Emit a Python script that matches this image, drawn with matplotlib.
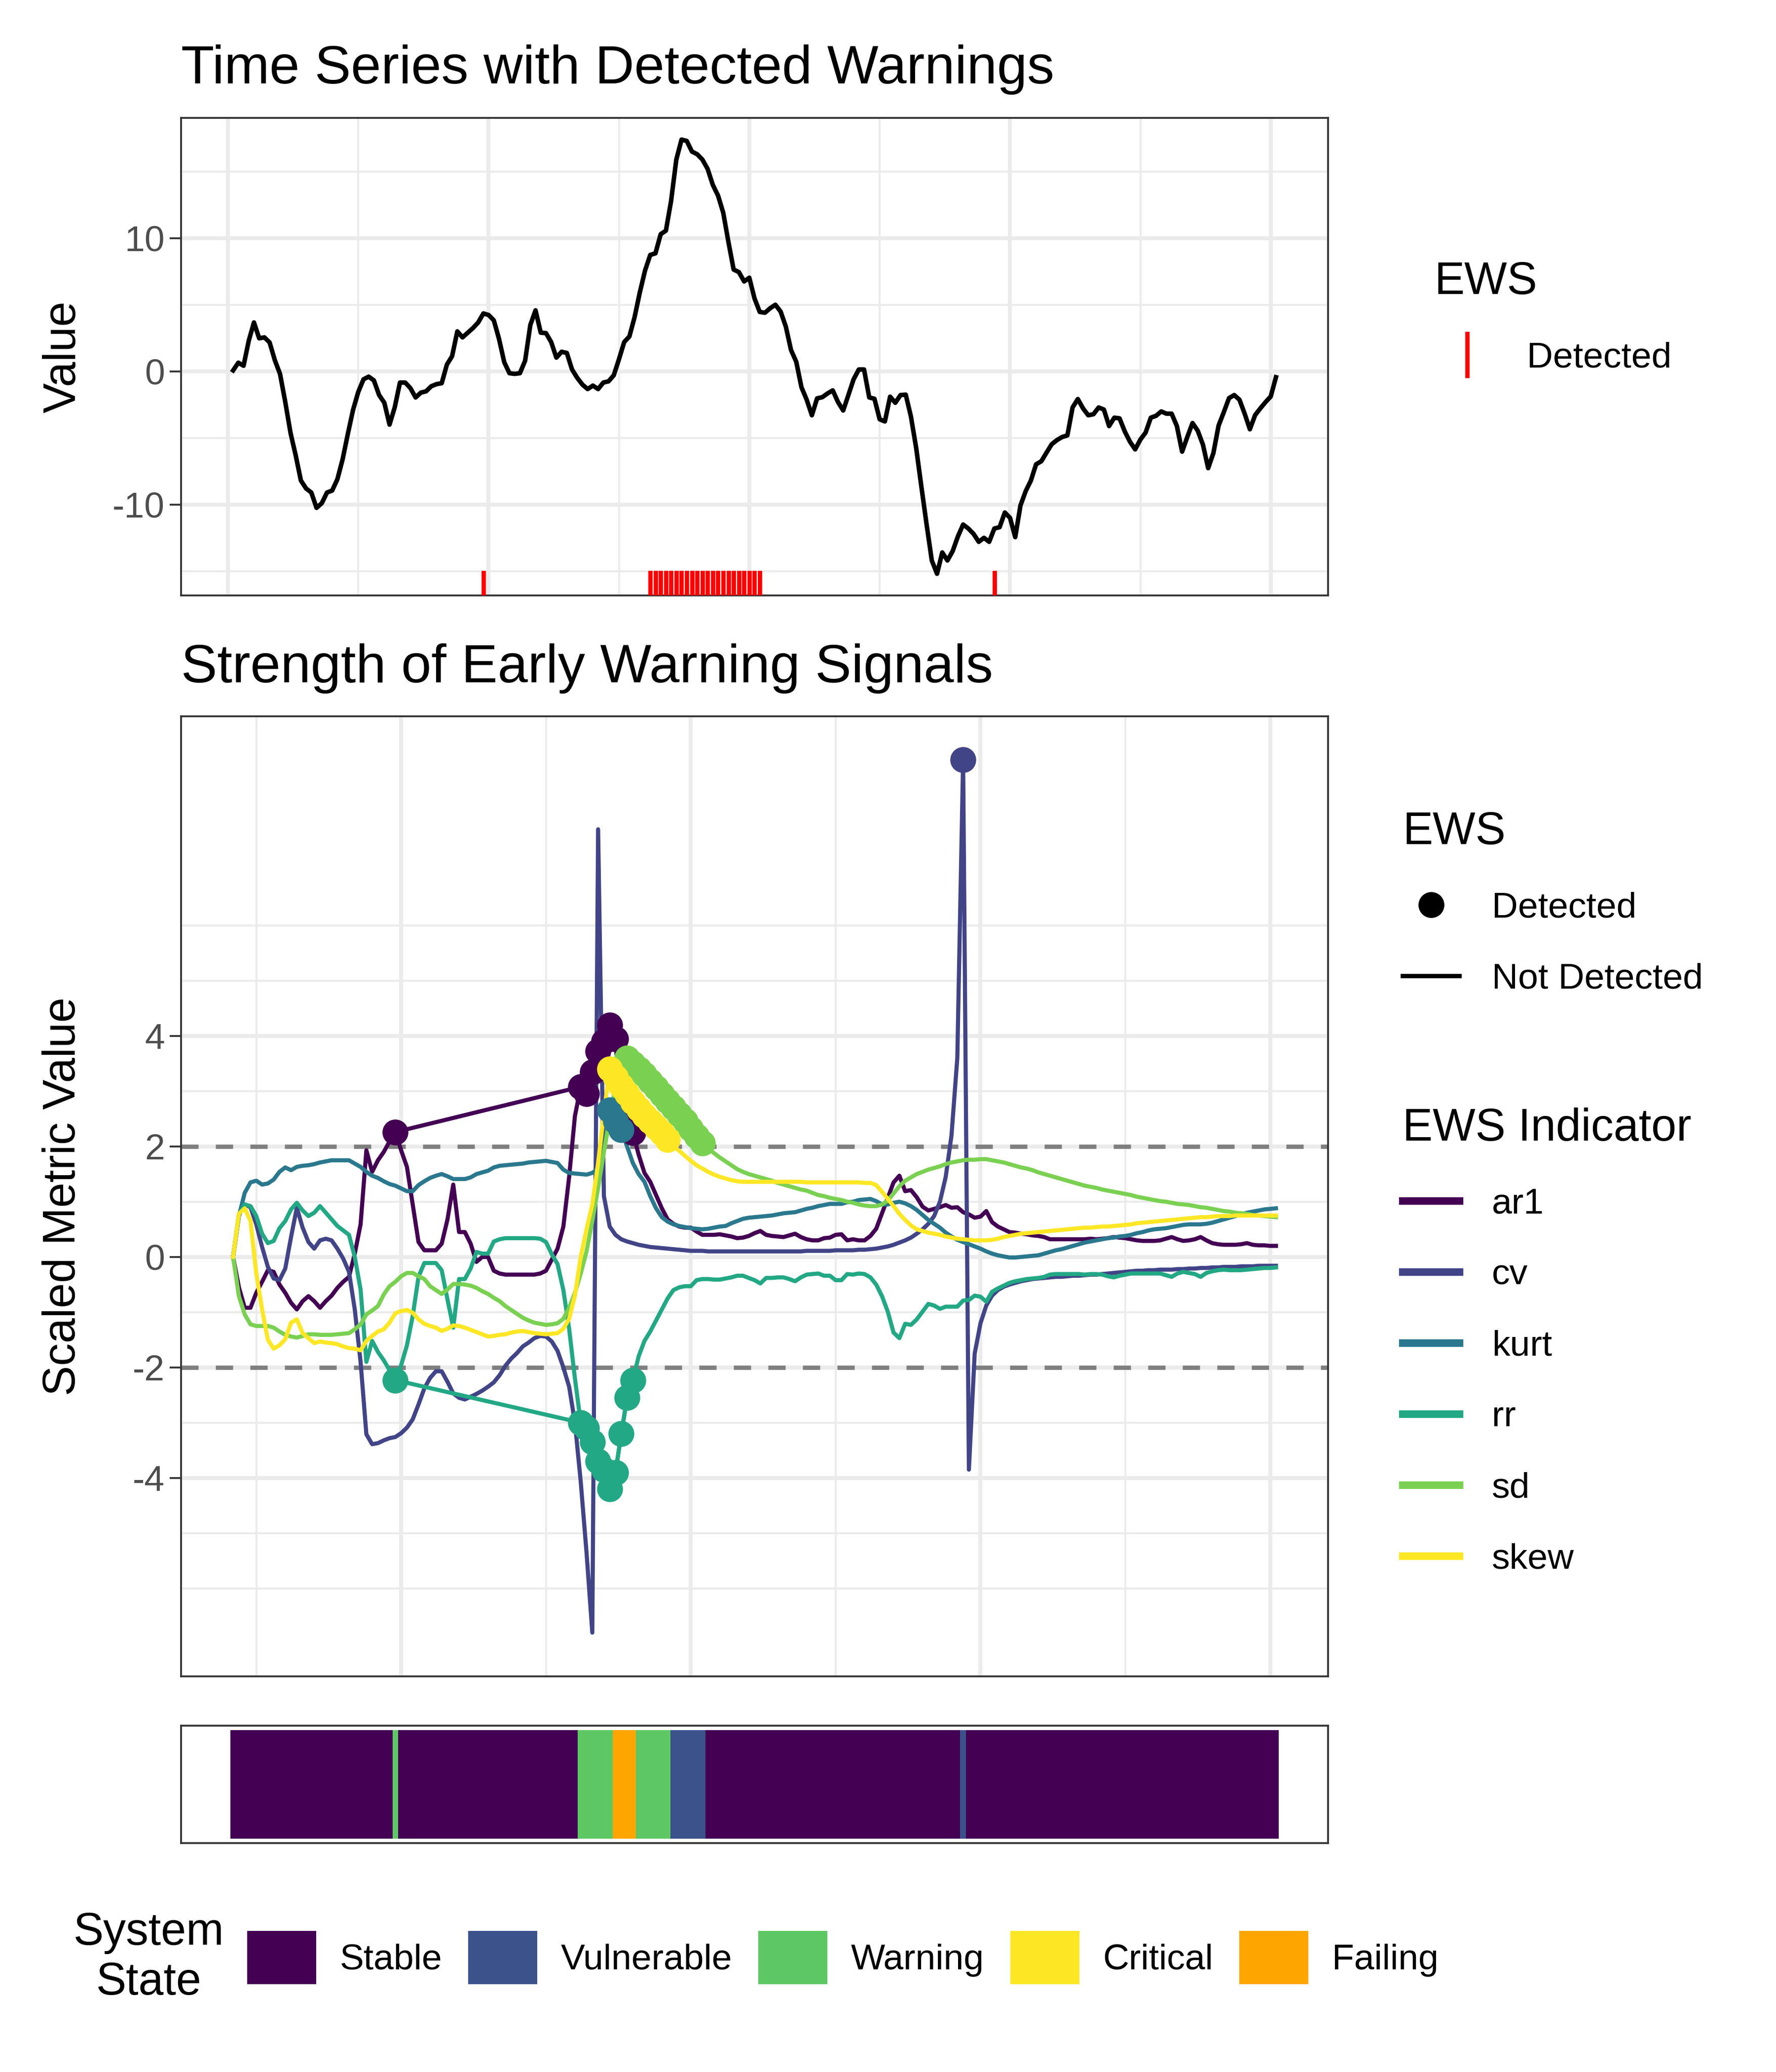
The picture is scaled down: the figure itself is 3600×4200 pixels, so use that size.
import matplotlib
matplotlib.use("Agg")
import matplotlib.pyplot as plt
import numpy as np
from matplotlib.lines import Line2D
from matplotlib.patches import Patch
from matplotlib.colors import ListedColormap

plt.rcParams['font.family'] = ['Liberation Sans', 'DejaVu Sans']
plt.rcParams['axes.unicode_minus'] = False

# ---------------- data ----------------
ts_time = np.arange(1, 202)
ts_value = [
    0.07, 0.65, 0.42, 2.3, 3.67, 2.48, 2.55, 2.17, 0.84, -0.2,
    -2.3, -4.6, -6.3, -8.2, -8.8, -9.1, -10.25, -9.9, -9.1, -8.95,
    -8.1, -6.6, -4.7, -2.9, -1.55, -0.6, -0.4, -0.68, -1.78, -2.36,
    -4.0, -2.7, -0.84, -0.84, -1.26, -1.96, -1.6, -1.5, -1.12, -0.96,
    -0.89, 0.51, 1.14, 3.0, 2.55, 2.9, 3.25, 3.67, 4.35, 4.23,
    3.83, 2.43, 0.68, -0.14, -0.19, -0.14, 0.8, 3.48, 4.58, 2.9,
    2.87, 2.2, 1.03, 1.47, 1.38, 0.14, -0.49, -1.0, -1.33, -1.07,
    -1.33, -0.84, -0.75, -0.3, 0.91, 2.2, 2.62, 4.07, 5.93, 7.57,
    8.74, 8.86, 10.3, 10.56, 12.8, 15.9, 17.4, 17.3, 16.5, 16.3,
    15.9, 15.2, 14.0, 13.2, 11.9, 9.7, 7.64, 7.45, 6.75, 7.03,
    5.47, 4.46, 4.4, 4.74, 5.0, 4.49, 3.36, 1.6, 0.72, -1.2,
    -2.13, -3.3, -2.03, -1.94, -1.66, -1.43, -2.3, -2.94, -1.78, -0.6,
    0.14, 0.14, -1.96, -2.06, -3.6, -3.76, -1.9, -2.36, -1.78, -1.75,
    -3.4, -5.75, -8.67, -11.5, -14.2, -15.2, -13.6, -14.2, -13.5, -12.4,
    -11.5, -11.8, -12.2, -12.8, -12.5, -12.8, -11.8, -11.7, -10.6, -11.0,
    -12.45, -10.07, -9.0, -8.2, -6.98, -6.75, -6.1, -5.47, -5.16, -4.93,
    -4.81, -2.71, -2.08, -2.78, -3.3, -3.22, -2.71, -2.87, -4.11, -3.48,
    -3.53, -4.51, -5.28, -5.86, -5.12, -4.6, -3.48, -3.34, -3.01, -3.18,
    -3.18, -4.11, -6.03, -4.93, -3.88, -4.46, -5.51, -7.27, -6.14, -4.07,
    -3.06, -2.01, -1.78, -2.13, -3.18, -4.35, -3.29, -2.78, -2.31, -1.89,
    -0.44,
]

ews_time = np.arange(21, 202)
ar1 = [
    0.0, -0.55, -0.92, -0.92, -0.65, -0.45, -0.24, -0.27, -0.5, -0.65,
    -0.83, -0.95, -0.8, -0.71, -0.8, -0.92, -0.8, -0.7, -0.56, -0.45,
    -0.36, 0.06, 0.59, 1.93, 1.54, 1.75, 1.9, 2.09, 2.26, 1.93,
    1.63, 0.95, 0.27, 0.12, 0.12, 0.12, 0.24, 0.68, 1.31, 0.45,
    0.45, 0.24, -0.09, 0.0, 0.0, -0.25, -0.3, -0.32, -0.32, -0.32,
    -0.32, -0.32, -0.32, -0.3, -0.25, -0.05, 0.15, 0.55, 1.45, 2.55,
    3.08, 2.95, 3.35, 3.72, 3.9, 4.2, 3.95, 2.5, 2.4, 2.25,
    1.85, 1.52, 1.36, 1.12, 0.88, 0.68, 0.6, 0.55, 0.53, 0.53,
    0.46, 0.4, 0.4, 0.4, 0.41, 0.39, 0.37, 0.34, 0.35, 0.38,
    0.43, 0.47, 0.4, 0.38, 0.37, 0.36, 0.39, 0.42, 0.36, 0.32,
    0.3, 0.3, 0.34, 0.35, 0.4, 0.41, 0.3, 0.32, 0.3, 0.3,
    0.38, 0.51, 0.79, 1.07, 1.35, 1.47, 1.19, 1.21, 1.08, 0.91,
    0.84, 0.87, 0.9, 0.94, 0.89, 0.9, 0.81, 0.77, 0.71, 0.73,
    0.83, 0.63, 0.55, 0.5, 0.45, 0.44, 0.42, 0.41, 0.39, 0.38,
    0.36, 0.32, 0.32, 0.32, 0.32, 0.32, 0.32, 0.32, 0.33, 0.32,
    0.33, 0.34, 0.36, 0.35, 0.34, 0.32, 0.3, 0.29, 0.29, 0.29,
    0.3, 0.33, 0.36, 0.32, 0.29, 0.3, 0.32, 0.36, 0.3, 0.25,
    0.23, 0.22, 0.22, 0.22, 0.23, 0.25, 0.22, 0.21, 0.21, 0.2,
    0.2,
]
cv = [
    0.0, 0.75, 0.95, 0.9, 0.59, 0.18, -0.18, -0.39, -0.42, -0.21,
    0.36, 0.89, 0.53, 0.27, 0.15, 0.3, 0.33, 0.3, 0.15, -0.03,
    -0.27, -0.95, -1.9, -3.21, -3.39, -3.37, -3.32, -3.28, -3.26, -3.19,
    -3.09, -2.94, -2.67, -2.38, -2.19, -2.07, -2.07, -2.26, -2.47, -2.55,
    -2.58, -2.53, -2.48, -2.42, -2.35, -2.27, -2.14, -1.97, -1.84, -1.74,
    -1.62, -1.55, -1.47, -1.43, -1.44, -1.53, -1.7, -2.0, -2.35, -3.0,
    -4.07, -5.35, -6.8, 7.74, 1.1, 0.55, 0.4, 0.32, 0.28, 0.25,
    0.22, 0.2, 0.18, 0.17, 0.16, 0.15, 0.14, 0.13, 0.12, 0.11,
    0.11, 0.11, 0.1, 0.1, 0.1, 0.1, 0.1, 0.1, 0.1, 0.1,
    0.1, 0.1, 0.1, 0.1, 0.1, 0.1, 0.1, 0.1, 0.1, 0.11,
    0.11, 0.11, 0.11, 0.11, 0.12, 0.12, 0.12, 0.12, 0.13, 0.13,
    0.14, 0.15, 0.17, 0.19, 0.22, 0.26, 0.3, 0.35, 0.42, 0.5,
    0.6, 0.74, 1.0, 1.45, 2.2, 3.6, 9.0, -3.85, -1.75, -1.2,
    -0.88, -0.7, -0.6, -0.54, -0.5, -0.47, -0.44, -0.42, -0.4, -0.39,
    -0.38, -0.37, -0.36, -0.36, -0.35, -0.34, -0.34, -0.33, -0.32, -0.32,
    -0.31, -0.3, -0.29, -0.28, -0.27, -0.26, -0.25, -0.25, -0.24, -0.24,
    -0.23, -0.23, -0.23, -0.22, -0.22, -0.21, -0.21, -0.2, -0.2, -0.19,
    -0.19, -0.18, -0.18, -0.18, -0.17, -0.17, -0.17, -0.16, -0.16, -0.16,
    -0.16,
]
kurt = [
    0.0, 0.74, 1.16, 1.35, 1.38, 1.31, 1.33, 1.4, 1.54, 1.62,
    1.57, 1.63, 1.65, 1.66, 1.68, 1.71, 1.73, 1.75, 1.75, 1.75,
    1.75, 1.69, 1.63, 1.54, 1.47, 1.43, 1.37, 1.32, 1.29, 1.24,
    1.19, 1.19, 1.3, 1.37, 1.43, 1.47, 1.5, 1.46, 1.41, 1.41,
    1.41, 1.44, 1.5, 1.53, 1.56, 1.62, 1.65, 1.66, 1.67, 1.68,
    1.69, 1.71, 1.72, 1.73, 1.74, 1.72, 1.7, 1.58, 1.52, 1.51,
    1.5, 1.49, 1.52, 1.6, 1.95, 2.66, 2.45, 2.3, 2.0, 1.7,
    1.5, 1.36, 1.1, 0.88, 0.72, 0.64, 0.59, 0.56, 0.54, 0.52,
    0.51, 0.5, 0.51, 0.53, 0.55, 0.56, 0.61, 0.65, 0.69, 0.71,
    0.72, 0.73, 0.74, 0.75, 0.77, 0.79, 0.8, 0.81, 0.84, 0.87,
    0.89, 0.92, 0.94, 0.96, 0.96, 0.96, 0.99, 1.0, 1.03, 1.04,
    1.05, 1.01, 0.95, 0.95, 0.98, 1.0, 0.97, 0.92, 0.85, 0.76,
    0.67, 0.6, 0.53, 0.44, 0.37, 0.31, 0.27, 0.23, 0.19, 0.15,
    0.1, 0.06, 0.03, 0.01, -0.01, -0.01, 0.0, 0.01, 0.02, 0.03,
    0.06, 0.09, 0.12, 0.14, 0.17, 0.2, 0.23, 0.26, 0.28, 0.3,
    0.32, 0.34, 0.35, 0.37, 0.38, 0.4, 0.43, 0.45, 0.48, 0.5,
    0.51, 0.52, 0.54, 0.56, 0.58, 0.59, 0.59, 0.59, 0.6, 0.62,
    0.65, 0.68, 0.71, 0.74, 0.77, 0.8, 0.82, 0.84, 0.86, 0.87,
    0.88,
]
rr = [
    0.0, 0.77, 0.95, 0.92, 0.74, 0.42, 0.25, 0.29, 0.52, 0.65,
    0.86, 0.98, 0.84, 0.74, 0.8, 0.92, 0.8, 0.68, 0.56, 0.48,
    0.4, 0.0, -0.59, -1.9, -1.52, -1.72, -1.87, -2.05, -2.23, -1.96,
    -1.6, -1.07, -0.36, -0.11, -0.11, -0.11, -0.24, -0.77, -1.28, -0.4,
    -0.4, -0.21, 0.09, 0.06, 0.06, 0.28, 0.32, 0.34, 0.34, 0.34,
    0.34, 0.34, 0.34, 0.33, 0.27, 0.05, -0.13, -0.6, -1.3, -2.2,
    -3.0, -3.1, -3.35, -3.7, -3.85, -4.2, -3.9, -3.2, -2.55, -2.23,
    -1.8, -1.52, -1.35, -1.15, -0.95, -0.75, -0.6, -0.55, -0.53, -0.53,
    -0.42, -0.4, -0.4, -0.41, -0.41, -0.39, -0.37, -0.34, -0.34, -0.38,
    -0.42, -0.48, -0.38, -0.38, -0.37, -0.37, -0.4, -0.44, -0.37, -0.32,
    -0.31, -0.3, -0.34, -0.34, -0.42, -0.42, -0.31, -0.32, -0.3, -0.31,
    -0.37, -0.5, -0.71, -0.99, -1.37, -1.47, -1.21, -1.23, -1.13, -0.99,
    -0.85, -0.88, -0.94, -0.9, -0.9, -0.9, -0.79, -0.78, -0.7, -0.72,
    -0.81, -0.63, -0.57, -0.52, -0.47, -0.44, -0.42, -0.4, -0.39, -0.38,
    -0.36, -0.32, -0.31, -0.31, -0.31, -0.31, -0.31, -0.32, -0.31, -0.31,
    -0.32, -0.35, -0.37, -0.34, -0.32, -0.3, -0.3, -0.3, -0.3, -0.3,
    -0.3, -0.33, -0.36, -0.3, -0.27, -0.29, -0.31, -0.36, -0.29, -0.26,
    -0.24, -0.23, -0.24, -0.24, -0.24, -0.23, -0.22, -0.21, -0.2, -0.2,
    -0.19,
]
sd = [
    0.0, -0.71, -1.04, -1.22, -1.25, -1.25, -1.25, -1.28, -1.35, -1.41,
    -1.44, -1.46, -1.43, -1.4, -1.4, -1.41, -1.41, -1.41, -1.4, -1.39,
    -1.38, -1.31, -1.22, -1.04, -0.97, -0.89, -0.68, -0.53, -0.45, -0.35,
    -0.29, -0.29, -0.35, -0.4, -0.53, -0.6, -0.67, -0.59, -0.49, -0.49,
    -0.5, -0.52, -0.56, -0.62, -0.67, -0.74, -0.8, -0.89, -0.96, -1.03,
    -1.1, -1.15, -1.19, -1.21, -1.23, -1.22, -1.2, -1.12, -0.92, -0.65,
    -0.3, 0.1, 0.65, 1.25, 1.9, 2.5, 3.1, 3.5, 3.6, 3.5,
    3.4, 3.3, 3.18, 3.06, 2.94, 2.82, 2.7, 2.58, 2.46, 2.32,
    2.19, 2.06, 1.96, 1.88, 1.8, 1.73, 1.66, 1.59, 1.54, 1.5,
    1.47, 1.44, 1.41, 1.38, 1.34, 1.31, 1.28, 1.25, 1.22, 1.2,
    1.16, 1.12, 1.1, 1.07, 1.05, 1.03, 1.0, 0.98, 0.95, 0.93,
    0.92, 0.92, 0.95, 1.02, 1.15, 1.28, 1.38, 1.44, 1.5, 1.54,
    1.58, 1.61, 1.64, 1.68, 1.71, 1.73, 1.75, 1.76, 1.76, 1.77,
    1.77, 1.75, 1.73, 1.71, 1.68, 1.65, 1.62, 1.6, 1.57, 1.53,
    1.5, 1.47, 1.44, 1.41, 1.38, 1.35, 1.32, 1.29, 1.27, 1.25,
    1.22, 1.2, 1.18, 1.16, 1.14, 1.12, 1.09, 1.07, 1.05, 1.03,
    1.01, 1.0, 0.98, 0.96, 0.95, 0.94, 0.92, 0.9, 0.89, 0.87,
    0.85, 0.83, 0.82, 0.8, 0.79, 0.78, 0.76, 0.75, 0.74, 0.73,
    0.72,
]
skew = [
    0.0, 0.78, 0.88, 0.65, -0.3, -0.95, -1.5, -1.66, -1.6, -1.49,
    -1.19, -1.13, -1.38, -1.47, -1.56, -1.53, -1.55, -1.56, -1.58, -1.62,
    -1.65, -1.66, -1.69, -1.52, -1.43, -1.35, -1.31, -1.19, -1.02, -0.98,
    -0.96, -1.01, -1.13, -1.21, -1.25, -1.28, -1.34, -1.3, -1.24, -1.25,
    -1.28, -1.32, -1.36, -1.4, -1.44, -1.43, -1.41, -1.4, -1.37, -1.35,
    -1.34, -1.36, -1.38, -1.39, -1.4, -1.39, -1.38, -1.3, -1.12, -0.7,
    0.0, 0.5, 0.95, 1.7, 2.6, 3.4, 3.25, 3.1, 2.95, 2.8,
    2.68, 2.56, 2.45, 2.35, 2.24, 2.12, 2.0, 1.92, 1.83, 1.74,
    1.66, 1.6, 1.54, 1.49, 1.45, 1.42, 1.39, 1.37, 1.36, 1.36,
    1.36, 1.36, 1.36, 1.36, 1.36, 1.36, 1.36, 1.36, 1.36, 1.35,
    1.35, 1.35, 1.35, 1.35, 1.35, 1.35, 1.35, 1.35, 1.35, 1.34,
    1.34, 1.3, 1.18, 1.05, 0.92, 0.78, 0.67, 0.57, 0.5, 0.47,
    0.44, 0.42, 0.4, 0.37, 0.35, 0.33, 0.32, 0.31, 0.3, 0.3,
    0.3, 0.31, 0.33, 0.36, 0.38, 0.4, 0.42, 0.43, 0.44, 0.45,
    0.46, 0.47, 0.48, 0.49, 0.5, 0.51, 0.52, 0.53, 0.53, 0.54,
    0.55, 0.55, 0.56, 0.57, 0.58, 0.59, 0.61, 0.62, 0.63, 0.64,
    0.65, 0.66, 0.67, 0.68, 0.69, 0.7, 0.71, 0.72, 0.72, 0.73,
    0.74, 0.74, 0.74, 0.75, 0.75, 0.75, 0.75, 0.75, 0.75, 0.75,
    0.75,
]

indicator_names = ["ar1", "cv", "kurt", "rr", "sd", "skew"]
indicator_colors = ["#440154", "#414487", "#2A788E", "#22A884", "#7AD151", "#FDE725"]

# time points flagged as detected, per indicator
detected_ar1 = [49, 81, 82, 83, 84, 85, 86, 87, 88, 89, 90]
detected_cv = [147]
detected_kurt = [86, 87, 88]
detected_rr = [49, 81, 82, 83, 84, 85, 86, 87, 88, 89, 90]
detected_sd = [89, 90, 91, 92, 93, 94, 95, 96, 97, 98, 99, 100, 101, 102]
detected_skew = [86, 87, 88, 89, 90, 91, 92, 93, 94, 95, 96]

state_names = ["Stable", "Vulnerable", "Warning", "Critical", "Failing"]
state_colors = ["#440154", "#3B528B", "#5DC863", "#FDE725", "#FFA500"]
# runs of system state: (first time, last time, state)
state_runs = [(21, 48, "Stable"), (49, 49, "Warning"), (50, 80, "Stable"),
              (81, 86, "Warning"), (87, 90, "Failing"), (91, 96, "Warning"),
              (97, 102, "Vulnerable"), (103, 146, "Stable"),
              (147, 147, "Vulnerable"), (148, 201, "Stable")]

# ---------------- derived ----------------
state_time = []
state_idx = []
for a, b, s in state_runs:
    for t in range(a, b + 1):
        state_time.append(t)
        state_idx.append(state_names.index(s))
state_time = np.array(state_time)
state_idx = np.array(state_idx)
warn_times = state_time[state_idx != 0]

series = dict(ar1=ar1, cv=cv, kurt=kurt, rr=rr, sd=sd, skew=skew)
detected = dict(ar1=detected_ar1, cv=detected_cv, kurt=detected_kurt,
                rr=detected_rr, sd=detected_sd, skew=detected_skew)


def padded(lo, hi, frac=0.05):
    r = hi - lo
    return lo - frac * r, hi + frac * r


GRID = "#EBEBEB"
TICKC = "#333333"
TXT2 = "#4D4D4D"
FS_TITLE = 26.4
FS_AX = 22
FS_TICK = 17.6
LW_IND = 2.0


def style_axes(ax):
    ax.set_axisbelow(True)
    ax.grid(which="major", color=GRID, lw=1.9)
    ax.grid(which="minor", color=GRID, lw=0.95)
    for sp in ax.spines.values():
        sp.set_color(TICKC)
        sp.set_linewidth(0.9)
    ax.tick_params(axis="x", which="both", length=0, labelbottom=False)
    ax.tick_params(axis="y", which="major", length=5.5, width=0.9, color=TICKC,
                   labelsize=FS_TICK, labelcolor=TXT2, pad=2.5)
    ax.tick_params(axis="y", which="minor", length=0)


fig = plt.figure(figsize=(12, 14), dpi=300)

# ---------------- top panel ----------------
ax1 = fig.add_axes([0.1019, 0.7126, 0.6459, 0.2305])
ax1.plot(ts_time, ts_value, color="black", lw=2.2, zorder=3)
for t in warn_times:
    ax1.axvline(t, ymin=0, ymax=0.048, color="red", lw=2.1, zorder=4)
ax1.set_xlim(*padded(ts_time.min(), ts_time.max()))
ax1.set_ylim(*padded(min(ts_value), max(ts_value)))
ax1.set_xticks([0, 50, 100, 150, 200])
ax1.set_xticks([25, 75, 125, 175], minor=True)
ax1.set_yticks([-10, 0, 10])
ax1.set_yticks([-15, -5, 5, 15], minor=True)
style_axes(ax1)

fig.text(0.1019, 0.9598, "Time Series with Detected Warnings", fontsize=FS_TITLE,
         ha="left", va="baseline")
fig.text(0.0356, 0.7126 + 0.2305 / 2, "Value", fontsize=FS_AX, rotation=90,
         ha="center", va="center")

# ---------------- strength panel ----------------
ax2 = fig.add_axes([0.1019, 0.1910, 0.6459, 0.4634])
ax2.axhline(2, color="#7F7F7F", lw=2.1, ls=(0, (4, 4)), zorder=2)
ax2.axhline(-2, color="#7F7F7F", lw=2.1, ls=(0, (4, 4)), zorder=2)
for name, col in zip(indicator_names, indicator_colors):
    ax2.plot(ews_time, series[name], color=col, lw=LW_IND, zorder=3)
for name, col in zip(indicator_names, indicator_colors):
    dt = detected[name]
    vals = np.array(series[name])
    dv = vals[np.searchsorted(ews_time, dt)]
    if len(dt) > 1:
        ax2.plot(dt, dv, color=col, lw=LW_IND, zorder=4)
for name, col in zip(indicator_names, indicator_colors):
    dt = detected[name]
    vals = np.array(series[name])
    dv = vals[np.searchsorted(ews_time, dt)]
    ax2.plot(dt, dv, "o", color=col, ms=12.6, mew=0, zorder=5)

allv = np.concatenate([np.array(series[n]) for n in indicator_names])
ax2.set_xlim(*padded(ews_time.min(), ews_time.max()))
ax2.set_ylim(*padded(allv.min(), allv.max()))
ax2.set_xticks([50, 100, 150, 200])
ax2.set_xticks([25, 75, 125, 175], minor=True)
ax2.set_yticks([-4, -2, 0, 2, 4])
ax2.set_yticks([-6, -5, -3, -1, 1, 3, 5, 6], minor=True)
style_axes(ax2)

fig.text(0.1019, 0.6707, "Strength of Early Warning Signals", fontsize=FS_TITLE,
         ha="left", va="baseline")
fig.text(0.0356, 0.1910 + 0.4634 / 2, "Scaled Metric Value", fontsize=FS_AX,
         rotation=90, ha="center", va="center")

# ---------------- state bar ----------------
ax3 = fig.add_axes([0.1019, 0.1105, 0.6459, 0.0566])
edges = np.append(state_time - 0.5, state_time[-1] + 0.5)
ax3.pcolormesh(edges, [0.5, 1.5], state_idx[None, :],
               cmap=ListedColormap(state_colors), vmin=-0.5, vmax=4.5)
ax3.set_xlim(*padded(edges[0], edges[-1], 0.047))
ax3.set_ylim(0.461, 1.539)
ax3.set_xticks([])
ax3.set_yticks([])
for sp in ax3.spines.values():
    sp.set_color(TICKC)
    sp.set_linewidth(0.9)

# ---------------- legends ----------------
leg_kw = dict(frameon=False, fontsize=FS_TICK, title_fontsize=FS_AX,
              alignment="left", borderpad=0, borderaxespad=0, loc="upper left")

h_rug = [Line2D([], [], color="red", marker="|", ls="None", ms=22.4, mew=2.1)]
fig.legend(h_rug, ["Detected"], title="EWS", bbox_to_anchor=(0.8077, 0.8740),
           handlelength=1.81, handletextpad=0.75, labelspacing=1.05, **leg_kw)

h_ews = [Line2D([], [], color="black", marker="o", ls="None", ms=12.6, mew=0),
         Line2D([], [], color="black", lw=2.1)]
fig.legend(h_ews, ["Detected", "Not Detected"], title="EWS",
           bbox_to_anchor=(0.7898, 0.6085), handlelength=1.57,
           handletextpad=0.89, labelspacing=1.05, **leg_kw)

h_ind = [Line2D([], [], color=c, lw=3.7) for c in indicator_colors]
fig.legend(h_ind, indicator_names, title="EWS Indicator",
           bbox_to_anchor=(0.7898, 0.4656), handlelength=1.57,
           handletextpad=0.89, labelspacing=1.05, **leg_kw)

h_state = [Patch(facecolor=c, edgecolor="none") for c in state_colors]
fig.legend(h_state, state_names, ncol=5, loc="center left",
           bbox_to_anchor=(0.1392, 0.0552), frameon=False, fontsize=FS_TICK,
           handlelength=1.91, handleheight=1.88, handletextpad=0.65,
           columnspacing=0.72, borderpad=0, borderaxespad=0)
fig.text(0.0839, 0.0552, "System\nState", fontsize=FS_AX, ha="center",
         va="center", multialignment="center", linespacing=1.22)

fig.savefig("out.png", dpi=300)
